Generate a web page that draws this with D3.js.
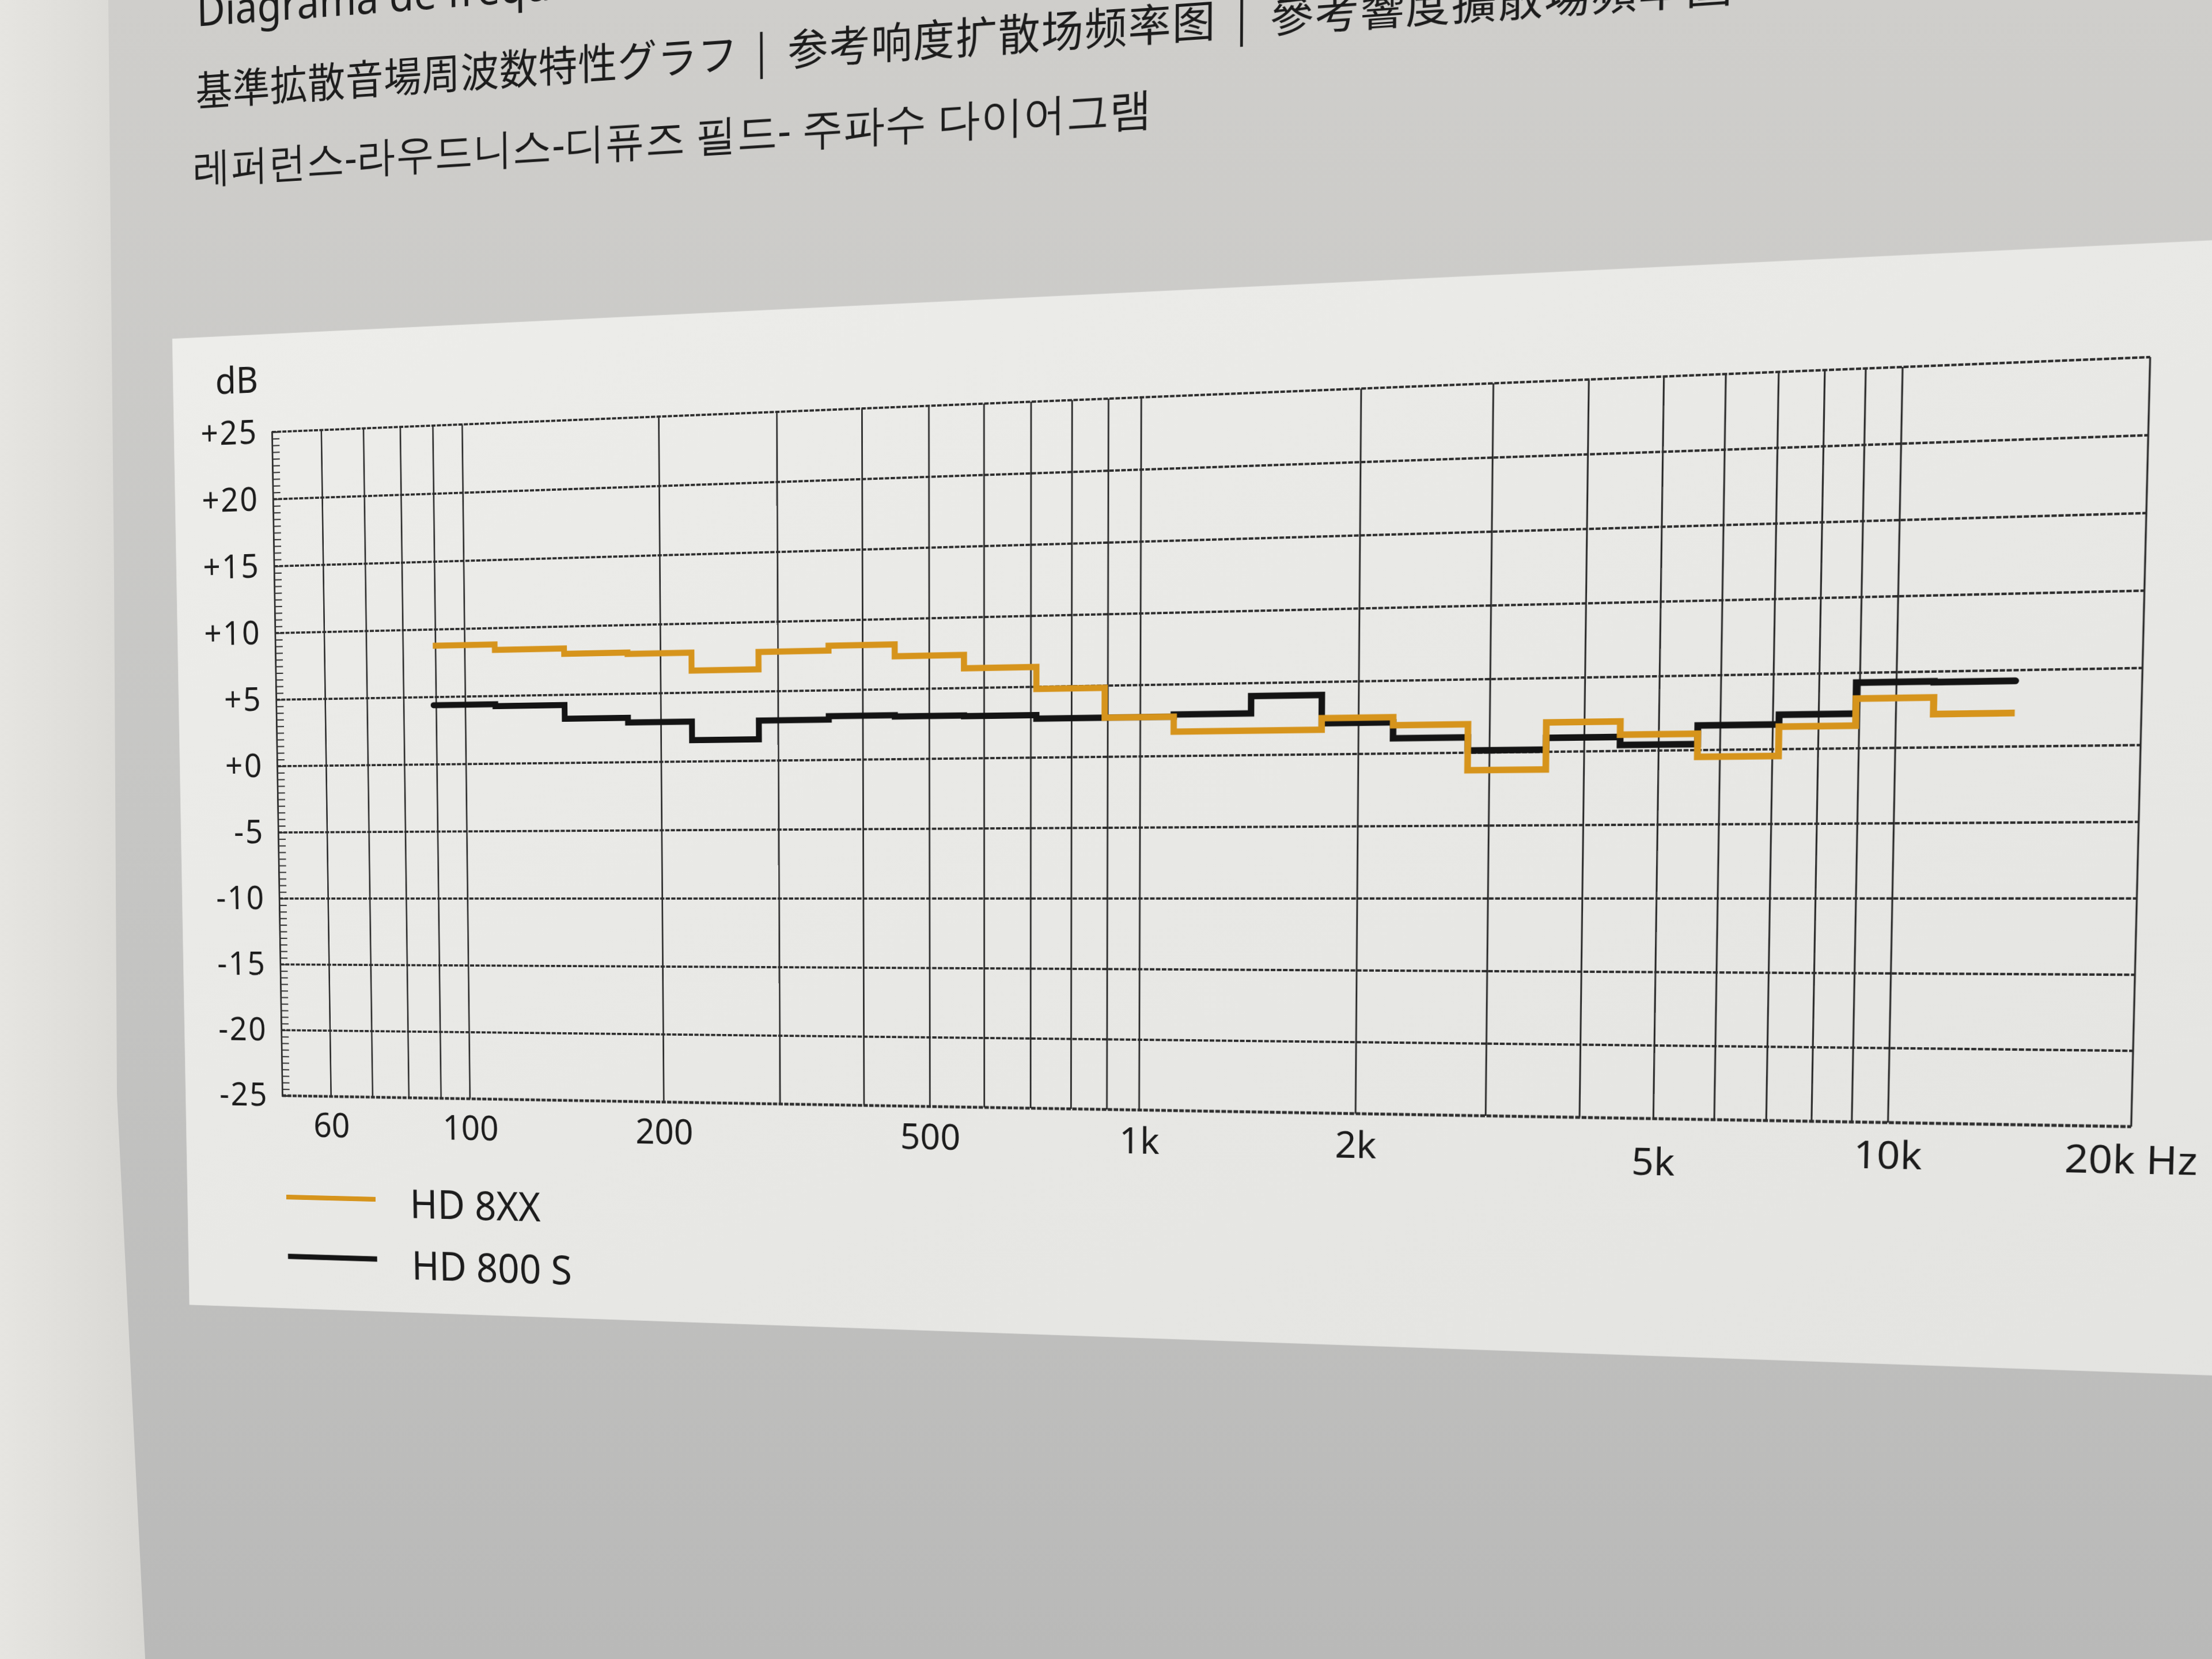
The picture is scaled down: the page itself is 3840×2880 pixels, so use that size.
<!DOCTYPE html>
<html><head><meta charset="utf-8">
<script src="https://cdn.jsdelivr.net/npm/d3@7"></script>
<style>
html,body{margin:0;padding:0;width:3840px;height:2880px;overflow:hidden;background:#c4c4c2;}
#bg{position:absolute;left:0;top:0;}
#plane{position:absolute;left:0;top:0;transform-origin:0 0;width:4600px;height:2800px;}
text{font-family:"Noto Sans",sans-serif;fill:#1c1c1c;}
</style></head><body>
<svg id="bg" width="3840" height="2880"></svg>
<div id="plane"><svg id="chart" width="4600" height="2800"></svg></div>
<script>
// ---------------- data ----------------
const bandCenters = [100,125,160,200,250,315,400,500,630,800,1000,1250,1600,2000,2500,3150,4000,5000,6300,8000,10000,12500];
const hd8xx  = [8.8,8.4,8.0,7.9,6.6,7.85,8.2,7.35,6.4,4.85,2.75,1.7,1.7,2.5,1.95,-1.2,2.0,1.1,-0.45,1.5,3.3,2.2];
const hd800s = [4.4,4.25,3.25,2.9,1.55,2.9,3.15,3.05,3.0,2.75,2.75,2.9,4.1,2.15,1.05,0.15,0.95,0.4,1.65,2.3,4.35,4.3];
const seriesNames  = ["HD 8XX","HD 800 S"];
const seriesColors = ["#d6941c","#141414"];
const xGridFreqs  = [60,70,80,90,100,200,300,400,500,600,700,800,900,1000,2000,3000,4000,5000,6000,7000,8000,9000,10000,20000];
const xTickValues = [60,100,200,500,1000,2000,5000,10000,20000];
const xTickLabels = ["60","100","200","500","1k","2k","5k","10k","20k"];
const yTickValues = [25,20,15,10,5,0,-5,-10,-15,-20,-25];
const yTickLabels = ["+25","+20","+15","+10","+5","+0","-5","-10","-15","-20","-25"];
const titleLatin  = "Diagrama de frequência do campo difuso de referência";
const titleJP = "基準拡散音場周波数特性グラフ", titleSC = "参考响度扩散场频率图", titleTC = "參考響度擴散場頻率圖";
const titleKR = "레퍼런스-라우드니스-디퓨즈 필드- 주파수 다이어그램";

// ---------------- projective mapping (photo perspective) ----------------
const P = {x0:560, y0:900, w:3240, h:1240};
function solveH(src,dst){
  const A=[],b=[];
  for(let i=0;i<4;i++){const [x,y]=src[i],[u,v]=dst[i];
    A.push([x,y,1,0,0,0,-x*u,-y*u]);b.push(u);
    A.push([0,0,0,x,y,1,-x*v,-y*v]);b.push(v);}
  const n=8;
  for(let c=0;c<n;c++){let p=c;for(let r=c+1;r<n;r++)if(Math.abs(A[r][c])>Math.abs(A[p][c]))p=r;
    [A[c],A[p]]=[A[p],A[c]];[b[c],b[p]]=[b[p],b[c]];
    for(let r=0;r<n;r++){if(r===c)continue;const f=A[r][c]/A[c][c];for(let k=c;k<n;k++)A[r][k]-=f*A[c][k];b[r]-=f*b[c];}}
  const h=b.map((v,i)=>v/A[i][i]);
  return [[h[0],h[1],h[2]],[h[3],h[4],h[5]],[h[6],h[7],1]];
}
function inv3(m){const [a,b,c]=m[0],[d,e,f]=m[1],[g,h,i]=m[2];
  const A=e*i-f*h,B=-(d*i-f*g),C=d*h-e*g,D=-(b*i-c*h),E=a*i-c*g,F=-(a*h-b*g),G=b*f-c*e,H=-(a*f-c*d),I=a*e-b*d;
  const det=a*A+b*B+c*C;return [[A/det,D/det,G/det],[B/det,E/det,H/det],[C/det,F/det,I/det]];}
function apply(m,[x,y]){const w=m[2][0]*x+m[2][1]*y+m[2][2];
  return [(m[0][0]*x+m[0][1]*y+m[0][2])/w,(m[1][0]*x+m[1][1]*y+m[1][2])/w];}
const Hm = solveH([[P.x0,P.y0],[P.x0+P.w,P.y0],[P.x0,P.y0+P.h],[P.x0+P.w,P.y0+P.h]],
                  [[472,750],[3733,620],[490,1902],[3700,1956]]);
const Hi = inv3(Hm);
const toFlat = p => apply(Hi,p);
d3.select("#plane").style("transform",
  `matrix3d(${Hm[0][0]},${Hm[1][0]},0,${Hm[2][0]},${Hm[0][1]},${Hm[1][1]},0,${Hm[2][1]},0,0,1,0,${Hm[0][2]},${Hm[1][2]},0,1)`);

// ---------------- screen-space background ----------------
const bg = d3.select("#bg");
const bd = bg.append("defs");
const g1 = bd.append("linearGradient").attr("id","pg").attr("x1",0).attr("y1",0).attr("x2",0).attr("y2",1);
g1.append("stop").attr("offset","0").attr("stop-color","#cfcecb");
g1.append("stop").attr("offset","0.5").attr("stop-color","#c6c6c4");
g1.append("stop").attr("offset","1").attr("stop-color","#b9b9b8");
const g2 = bd.append("linearGradient").attr("id","ls").attr("x1",0).attr("y1",0).attr("x2",1).attr("y2",0);
g2.append("stop").attr("offset","0").attr("stop-color","#e6e5e1");
g2.append("stop").attr("offset","1").attr("stop-color","#d8d7d3");
bg.append("rect").attr("width",3840).attr("height",2880).attr("fill","url(#pg)");
bg.append("polygon").attr("points","0,0 188,0 198,1000 203,1900 252,2880 0,2880").attr("fill","url(#ls)");

// ---------------- flat chart ----------------
const svg = d3.select("#chart");
const pd = svg.append("defs");
const g3 = pd.append("linearGradient").attr("id","pn").attr("x1",0).attr("y1",0).attr("x2",1).attr("y2",1);
g3.append("stop").attr("offset","0").attr("stop-color","#ededea");
g3.append("stop").attr("offset","1").attr("stop-color","#e3e3e0");
const pTL = toFlat([299,588]), pBL = toFlat([326,2265]);
svg.append("rect").attr("x",pTL[0]).attr("y",pTL[1]).attr("width",P.x0+P.w+700-pTL[0])
  .attr("height",pBL[1]-pTL[1]).attr("fill","url(#pn)");

const x = d3.scaleLog().domain([50,20000]).range([P.x0,P.x0+P.w]);
const y = d3.scaleLinear().domain([-25,25]).range([P.y0+P.h,P.y0]);

// vertical grid
svg.append("g").selectAll("line").data(xGridFreqs).join("line")
  .attr("x1",d=>x(d)).attr("x2",d=>x(d)).attr("y1",y(25)).attr("y2",y(-25))
  .attr("stroke","#262626").attr("stroke-width",2.8);
// horizontal grid (dotted print texture)
svg.append("g").selectAll("line").data(yTickValues).join("line")
  .attr("x1",x(50)).attr("x2",x(20000)).attr("y1",d=>y(d)).attr("y2",d=>y(d))
  .attr("stroke","#2e2e2e").attr("stroke-width",d=>d===-25?5:4.2).attr("stroke-dasharray","8 2.5");
// left axis with 0.5 dB minor ticks
const minor = svg.append("g").attr("transform",`translate(${x(50)},0)`)
  .call(d3.axisRight(y).tickValues(d3.range(-25,25.01,0.5)).tickSize(15).tickFormat(""));
minor.select(".domain").attr("stroke","#2a2a2a").attr("stroke-width",3.2);
minor.selectAll(".tick line").attr("stroke","#333").attr("stroke-width",2.2);

// y labels
const ya = svg.append("g").attr("transform",`translate(${x(50)},0)`)
  .call(d3.axisLeft(y).tickValues(yTickValues).tickSize(0).tickPadding(28).tickFormat((d,i)=>yTickLabels[i]));
ya.select(".domain").remove();
ya.selectAll("text").attr("font-size",62).attr("font-family","Noto Sans").attr("fill","#1c1c1c").attr("letter-spacing","3");
svg.append("text").attr("x",x(50)-26).attr("y",y(25)-74).attr("text-anchor","end")
  .attr("font-size",68).text("dB");

// x labels
const xa = svg.append("g").attr("transform",`translate(0,${y(-25)})`)
  .call(d3.axisBottom(x).tickValues(xTickValues).tickSize(0).tickPadding(32)
    .tickFormat((d,i)=>xTickLabels[i]+(d===20000?" Hz":"")));
xa.select(".domain").remove();
xa.selectAll("text").attr("font-size",64).attr("font-family","Noto Sans").attr("fill","#1c1c1c")
  .attr("dy",d=>d===5000?"1.0em":"0.71em");

// series
const edges = bandCenters.map(c=>c*Math.pow(2,-1/6));
const lastEdge = bandCenters[bandCenters.length-1]*Math.pow(2,1/6);
const line = d3.line().x(d=>x(d[0])).y(d=>y(d[1])).curve(d3.curveStepAfter);
[hd800s,hd8xx].forEach((vals,k)=>{
  const idx = k===0?1:0;
  const pts = vals.map((v,i)=>[edges[i],v]); pts.push([lastEdge,vals[vals.length-1]]);
  svg.append("path").datum(pts).attr("d",line).attr("fill","none")
    .attr("stroke",seriesColors[idx]).attr("stroke-width",11).attr("stroke-linejoin","miter")
    .attr("stroke-linecap",idx===1?"round":"butt");
});

// legend
const legScreen = [[[497,2078],[712,2114]],[[500,2181],[715,2221]]];
seriesNames.forEach((n,i)=>{
  const a = toFlat(legScreen[i][0]), t = toFlat(legScreen[i][1]);
  svg.append("line").attr("x1",a[0]).attr("x2",a[0]+180).attr("y1",a[1]).attr("y2",a[1])
    .attr("stroke",seriesColors[i]).attr("stroke-width",i===0?9:10);
  svg.append("text").attr("x",t[0]).attr("y",t[1]).attr("font-size",74).text(n);
});

// titles
const t1 = toFlat([342,46]), t2 = toFlat([340,184]), t3 = toFlat([336,316]);
svg.append("text").attr("x",t1[0]).attr("y",t1[1]).attr("font-size",78).text(titleLatin);
const tt = svg.append("text").attr("x",t2[0]).attr("y",t2[1]).attr("font-size",73.5).attr("letter-spacing","1");
tt.append("tspan").attr("font-family","Noto Sans CJK JP").text(titleJP);
tt.append("tspan").attr("font-family","Noto Sans CJK JP").attr("dx","0.45em").text("|");
tt.append("tspan").attr("font-family","Noto Sans CJK SC").attr("dx","0.5em").attr("letter-spacing","2").text(titleSC);
tt.append("tspan").attr("font-family","Noto Sans CJK JP").attr("dx","0.45em").text("|");
tt.append("tspan").attr("font-family","Noto Sans CJK TC").attr("dx","0.5em").attr("letter-spacing","2").text(titleTC);
svg.append("text").attr("x",t3[0]).attr("y",t3[1]).attr("font-size",75.5)
  .attr("font-family","Noto Sans CJK KR").text(titleKR);
</script>
</body></html>
